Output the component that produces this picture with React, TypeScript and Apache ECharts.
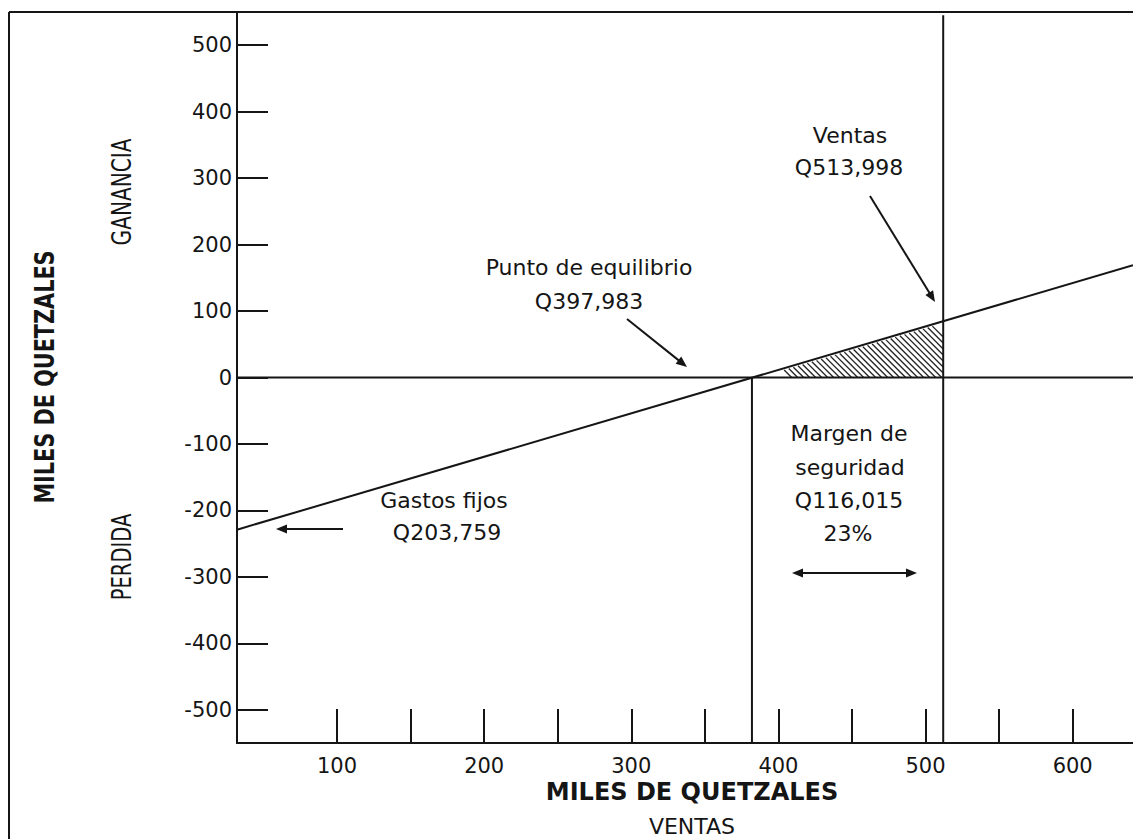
import React, { useEffect, useRef } from "react";
import * as echarts from "echarts";

// ---- Axis ranges and ticks (thousands of quetzales) ----
const X_MIN = 32;
const X_MAX = 641;
const Y_MIN = -550;
const Y_MAX = 550;
const xTickValues = [100, 150, 200, 250, 300, 350, 400, 450, 500, 550, 600];
const xLabelValues = [100, 200, 300, 400, 500, 600];
const yTickValues = [-500, -400, -300, -200, -100, 0, 100, 200, 300, 400, 500];

// ---- Values as drawn in the picture ----
const profitLine = [
  [32, -229],
  [641, 169],
];
const zeroLine = [
  [32, 0],
  [641, 0],
];
const breakEvenLine = [
  [382, -550],
  [382, 0],
];
const salesLine = [
  [512, -550],
  [512, 545],
];
const safetyMarginArea = [
  [382, 0],
  [512, 0],
  [512, 85],
];

const breakEvenText = ["Punto de equilibrio", "Q397,983"];
const salesText = ["Ventas", "Q513,998"];
const fixedCostText = ["Gastos fijos", "Q203,759"];
const marginText = ["Margen de", "seguridad", "Q116,015", "23%"];

const FONT = "DejaVu Sans";
const INK = "#151515";

function arrow(x1: number, y1: number, x2: number, y2: number, both = false) {
  const dx = x2 - x1;
  const dy = y2 - y1;
  const len = Math.hypot(dx, dy);
  const ux = dx / len;
  const uy = dy / len;
  const hl = 11;
  const hw = 4.5;
  const head = (tx: number, ty: number, vx: number, vy: number) => ({
    type: "polygon",
    shape: {
      points: [
        [tx, ty],
        [tx - vx * hl - vy * hw, ty - vy * hl + vx * hw],
        [tx - vx * hl + vy * hw, ty - vy * hl - vx * hw],
      ],
    },
    style: { fill: INK },
  });
  const sx = both ? x1 + ux * (hl - 2) : x1;
  const sy = both ? y1 + uy * (hl - 2) : y1;
  const els: any[] = [
    {
      type: "line",
      shape: { x1: sx, y1: sy, x2: x2 - ux * (hl - 2), y2: y2 - uy * (hl - 2) },
      style: { stroke: INK, lineWidth: 2 },
    },
    head(x2, y2, ux, uy),
  ];
  if (both) els.push(head(x1, y1, -ux, -uy));
  return els;
}

function txt(text: string, x: number, y: number, size = 22, extra: any = {}, styleExtra: any = {}) {
  return {
    type: "text",
    x,
    y,
    ...extra,
    style: {
      text,
      fontFamily: FONT,
      fontSize: size,
      fill: INK,
      align: "center",
      verticalAlign: "middle",
      ...styleExtra,
    },
  };
}

export default function App() {
  const ref = useRef<HTMLDivElement>(null);

  useEffect(() => {
    if (!ref.current) return;
    const chart = echarts.init(ref.current, undefined, { renderer: "svg" });

    const lineSeries = (data: number[][], z = 3) => ({
      type: "line",
      data,
      showSymbol: false,
      symbol: "none",
      silent: true,
      clip: false,
      z,
      lineStyle: { color: INK, width: 2 },
    });

    const option: any = {
      animation: false,
      backgroundColor: "#ffffff",
      textStyle: { fontFamily: FONT },
      grid: {
        left: 237,
        top: 12,
        right: 0,
        bottom: 96,
        containLabel: false,
        outerBoundsMode: "none",
      },
      xAxis: {
        type: "value",
        min: X_MIN,
        max: X_MAX,
        splitLine: { show: false },
        axisLine: { show: true, onZero: false, lineStyle: { color: INK, width: 2 } },
        axisTick: {
          show: true,
          inside: true,
          length: 34,
          customValues: xTickValues,
          lineStyle: { color: INK, width: 2 },
        },
        axisLabel: {
          show: true,
          customValues: xLabelValues,
          fontSize: 21,
          fontFamily: FONT,
          color: INK,
          margin: 12,
        },
      },
      yAxis: {
        type: "value",
        min: Y_MIN,
        max: Y_MAX,
        splitLine: { show: false },
        axisLine: { show: true, onZero: false, lineStyle: { color: INK, width: 2 } },
        axisTick: {
          show: true,
          inside: true,
          length: 31,
          customValues: yTickValues,
          lineStyle: { color: INK, width: 2 },
        },
        axisLabel: {
          show: true,
          customValues: yTickValues,
          fontSize: 21,
          fontFamily: FONT,
          color: INK,
          margin: 5,
        },
      },
      series: [
        lineSeries(zeroLine),
        lineSeries(profitLine),
        lineSeries(breakEvenLine),
        lineSeries(salesLine),
        {
          type: "custom",
          coordinateSystem: "cartesian2d",
          silent: true,
          clip: false,
          z: 2,
          data: [safetyMarginArea[0]],
          renderItem: (_params: any, api: any) => {
            const pts = safetyMarginArea.map((p) => api.coord(p));
            const children: any[] = [];
            const ks = pts.map((p: number[]) => p[1] - p[0]);
            const kMin = Math.min(...ks);
            const kMax = Math.max(...ks);
            for (let k = kMin + 4; k < kMax - 1; k += 6) {
              const hits: number[][] = [];
              for (let i = 0; i < 3; i++) {
                const P = pts[i];
                const Q = pts[(i + 1) % 3];
                const fp = P[1] - P[0] - k;
                const fq = Q[1] - Q[0] - k;
                if (fp === fq) continue;
                const t = fp / (fp - fq);
                if (t >= 0 && t <= 1) {
                  hits.push([P[0] + t * (Q[0] - P[0]), P[1] + t * (Q[1] - P[1])]);
                }
              }
              if (hits.length >= 2) {
                hits.sort((a, b) => a[0] - b[0]);
                const a = hits[0];
                const b = hits[hits.length - 1];
                if (Math.hypot(b[0] - a[0], b[1] - a[1]) < 12) continue;
                children.push({
                  type: "line",
                  shape: { x1: a[0] + 1.5, y1: a[1] + 1.5, x2: b[0], y2: b[1] },
                  style: { stroke: "#222", lineWidth: 1.3 },
                });
              }
            }
            return { type: "group", children };
          },
        },
      ],
      graphic: {
        elements: [
          // outer frame
          {
            type: "line",
            shape: { x1: 9, y1: 12, x2: 1133, y2: 12 },
            style: { stroke: INK, lineWidth: 2 },
          },
          {
            type: "line",
            shape: { x1: 9, y1: 12, x2: 9, y2: 839 },
            style: { stroke: INK, lineWidth: 2 },
          },
          // axis titles
          txt("MILES DE QUETZALES", 45, 377, 27, { rotation: Math.PI / 2, scaleX: 0.77 }, { fontWeight: "bold" }),
          txt("GANANCIA", 122, 192, 27, { rotation: Math.PI / 2, scaleX: 0.745 }),
          txt("PERDIDA", 122, 557, 27, { rotation: Math.PI / 2, scaleX: 0.724 }),
          txt("MILES DE QUETZALES", 692, 792, 24, {}, { fontWeight: "bold" }),
          txt("VENTAS", 692, 826, 22),
          // annotations
          txt(breakEvenText[0], 589, 267, 22),
          txt(breakEvenText[1], 589, 301, 22),
          txt(salesText[0], 850, 135, 22),
          txt(salesText[1], 849, 167, 22),
          txt(fixedCostText[0], 444, 500, 22),
          txt(fixedCostText[1], 447, 532, 22),
          txt(marginText[0], 849, 433, 22),
          txt(marginText[1], 850, 467, 22),
          txt(marginText[2], 849, 500, 22),
          txt(marginText[3], 848, 533, 22),
          ...arrow(627, 319, 687, 367),
          ...arrow(870, 196, 935, 302),
          ...arrow(343, 529, 276, 529),
          ...arrow(792, 573, 917, 573, true),
        ],
      },
    };

    chart.setOption(option);
    return () => {
      chart.dispose();
    };
  }, []);

  return (
    <div
      ref={ref}
      style={{ position: "fixed", left: 0, top: 0, width: 1133, height: 839, background: "#fff" }}
    />
  );
}
